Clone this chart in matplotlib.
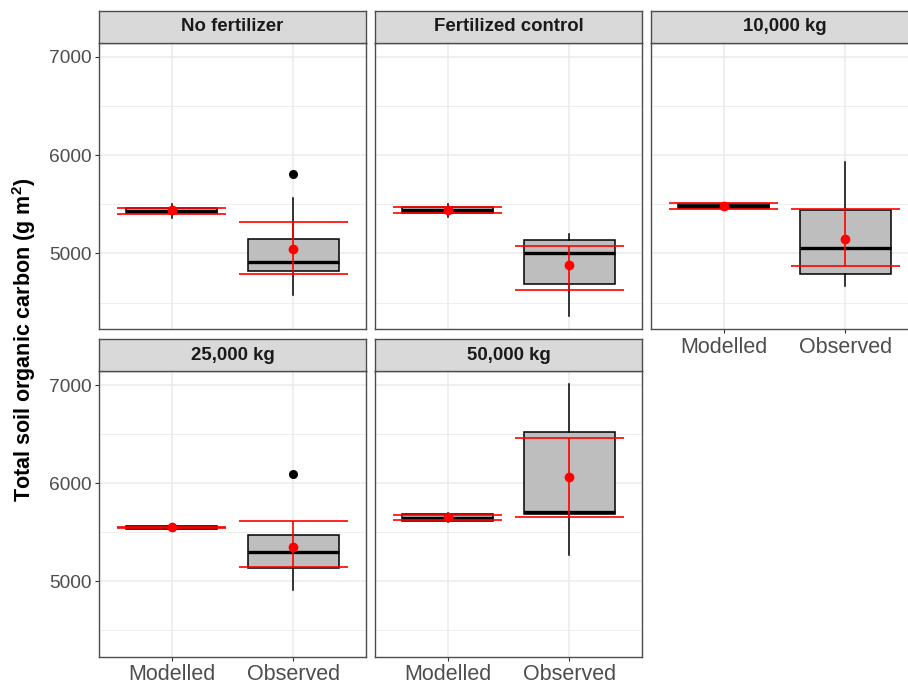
import matplotlib
matplotlib.use("Agg")
import matplotlib.pyplot as plt

plt.rcParams['font.family'] = ['Liberation Sans', 'DejaVu Sans']
plt.rcParams['mathtext.fontset'] = 'custom'
plt.rcParams['mathtext.rm'] = 'Liberation Sans'
plt.rcParams['mathtext.default'] = 'regular'

# ---------------- data ----------------
panels = ["No fertilizer", "Fertilized control", "10,000 kg", "25,000 kg", "50,000 kg"]
groups = ["Modelled", "Observed"]

# Modelled boxplot stats
mod_lo = [5364, 5371, 5452, 5525, 5605]
mod_q1 = [5408, 5415, 5459, 5529, 5614]
mod_med = [5435, 5442, 5480, 5550, 5650]
mod_q3 = [5459, 5472, 5500, 5567, 5690]
mod_hi = [5500, 5507, 5510, 5572, 5700]
mod_mean = [5439, 5442, 5483, 5550, 5652]
mod_err_lo = [5401, 5408, 5456, 5545, 5625]
mod_err_hi = [5466, 5476, 5510, 5555, 5680]

# Observed boxplot stats
obs_lo = [4575, 4367, 4673, 4915, 5273]
obs_q1 = [4820, 4687, 4789, 5133, 5690]
obs_med = [4912, 5003, 5051, 5294, 5710]
obs_q3 = [5143, 5133, 5442, 5468, 6519]
obs_hi = [5568, 5194, 5932, 5468, 7013]
obs_out = [[5813], [], [], [6092], []]
obs_mean = [5048, 4878, 5146, 5348, 6060]
obs_err_lo = [4789, 4633, 4871, 5143, 5652]
obs_err_hi = [5320, 5075, 5452, 5611, 6461]

y_major = [5000, 6000, 7000]
y_minor = [4500, 5500, 6500]
y_label = "Total soil organic carbon (g m$^{2}$)"

# ---------------- layout ----------------
W, H = 908, 684
fig = plt.figure(figsize=(W / 100, H / 100), dpi=100)
fig.patch.set_facecolor('white')

col_x = [(99, 366), (375, 642), (651, 918)]
row_y = [(42.7, 329), (371, 656.7)]
strip_y = [(10.7, 42.7), (339, 371)]

def frac_rect(x0, x1, y0, y1):
    return [x0 / W, 1 - y1 / H, (x1 - x0) / W, (y1 - y0) / H]

border_col = '#4D4D4D'
tick_col = '#4D4D4D'

for i, name in enumerate(panels):
    r, c = divmod(i, 3)
    x0, x1 = col_x[c]
    y0, y1 = row_y[r]
    ax = fig.add_axes(frac_rect(x0, x1, y0, y1))
    ax.set_facecolor('white')
    ax.set_axisbelow(True)

    stats = [
        dict(whislo=mod_lo[i], q1=mod_q1[i], med=mod_med[i], q3=mod_q3[i],
             whishi=mod_hi[i], fliers=[], label=groups[0]),
        dict(whislo=obs_lo[i], q1=obs_q1[i], med=obs_med[i], q3=obs_q3[i],
             whishi=obs_hi[i], fliers=obs_out[i], label=groups[1]),
    ]
    pos = [1, 2]
    ax.bxp(stats, positions=pos, widths=0.75, patch_artist=True,
           showcaps=False, manage_ticks=False,
           boxprops=dict(facecolor='#BEBEBE', edgecolor='black', linewidth=1.1),
           medianprops=dict(color='black', linewidth=2.4, solid_capstyle='butt'),
           whiskerprops=dict(color='black', linewidth=1.1),
           flierprops=dict(marker='o', markerfacecolor='black',
                           markeredgecolor='black', markersize=5.5))

    means = [mod_mean[i], obs_mean[i]]
    elo = [mod_err_lo[i], obs_err_lo[i]]
    ehi = [mod_err_hi[i], obs_err_hi[i]]
    for p, m, lo, hi in zip(pos, means, elo, ehi):
        ax.vlines(p, lo, hi, color='red', linewidth=1.2, zorder=5)
        ax.hlines([lo, hi], p - 0.45, p + 0.45, color='red', linewidth=1.2, zorder=5)
        ax.plot([p], [m], 'o', color='red', markersize=6, zorder=6)

    ax.set_xlim(0.4, 2.6)
    ax.set_ylim(4232, 7143)
    ax.set_xticks(pos)
    ax.set_xticklabels(groups)
    ax.set_yticks(y_major)
    ax.set_yticks(y_minor, minor=True)
    ax.grid(which='major', color='#EBEBEB', linewidth=1.1)
    ax.grid(which='minor', axis='y', color='#EBEBEB', linewidth=0.6)

    for s in ax.spines.values():
        s.set_color(border_col)
        s.set_linewidth(1.0)

    show_y = (c == 0)
    show_x = (i >= 2)
    ax.tick_params(axis='y', which='major', length=3 if show_y else 0,
                   width=0.8, color='#333333', labelsize=13.8,
                   labelcolor=tick_col, pad=2, labelleft=show_y)
    ax.tick_params(axis='y', which='minor', length=0)
    ax.tick_params(axis='x', which='major', length=3 if show_x else 0,
                   width=0.8, color='#333333', labelsize=15.5,
                   labelcolor=tick_col, pad=2.5, labelbottom=show_x)

    # strip
    sy0, sy1 = strip_y[r]
    sax = fig.add_axes(frac_rect(x0, x1, sy0, sy1))
    sax.set_facecolor('#D9D9D9')
    sax.set_xticks([])
    sax.set_yticks([])
    for s in sax.spines.values():
        s.set_color(border_col)
        s.set_linewidth(1.0)
    sax.text(0.5, 0.5, name, transform=sax.transAxes, ha='center', va='center',
             fontsize=13.4, fontweight='bold', color='#1A1A1A')

fig.text(24 / W, 1 - 340 / H, y_label, rotation=90, ha='center', va='center',
         fontsize=15.5, fontweight='bold', color='black')

fig.savefig('out.png', dpi=100)
